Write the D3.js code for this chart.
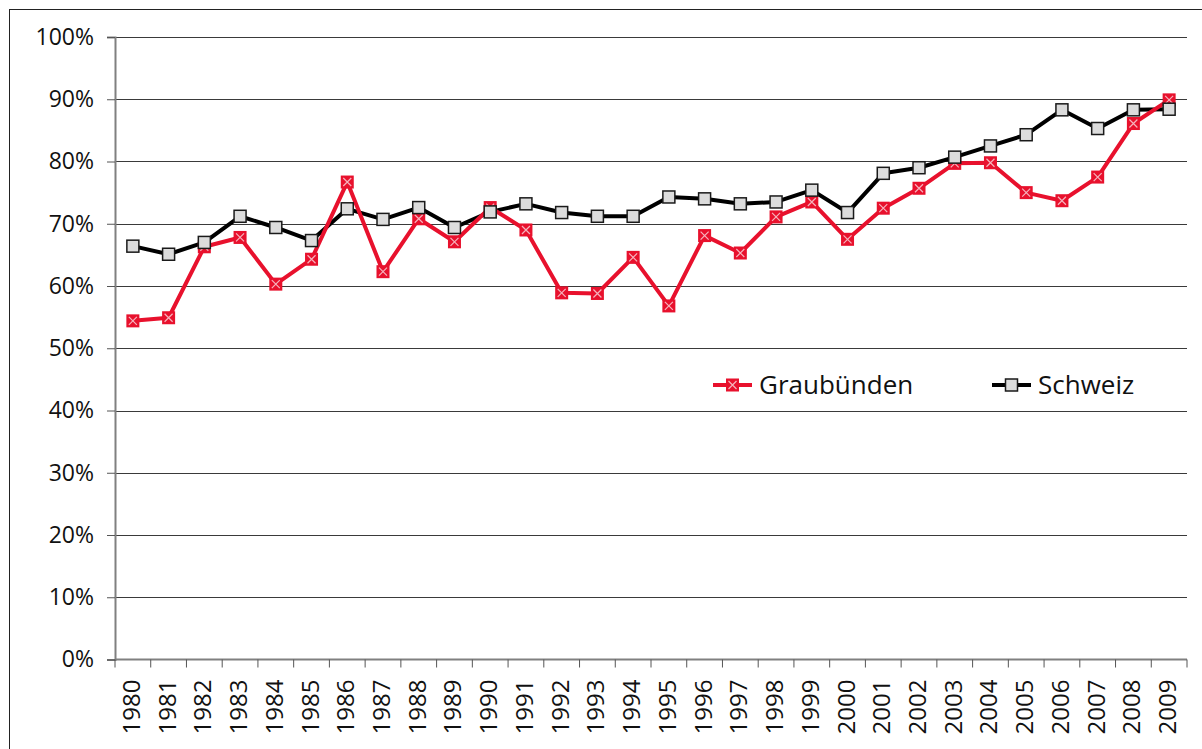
<!DOCTYPE html>
<html>
<head>
<meta charset="utf-8">
<script src="https://cdn.jsdelivr.net/npm/d3@7"></script>
<style>
  body { margin: 0; background: #fff; }
  svg { display: block; font-family: "Open Sans", "Noto Sans", sans-serif; }
</style>
</head>
<body>
<svg id="chart" width="1202" height="749"></svg>
<script>
// data (share in %)
var years = ["1980","1981","1982","1983","1984","1985","1986","1987","1988","1989",
             "1990","1991","1992","1993","1994","1995","1996","1997","1998","1999",
             "2000","2001","2002","2003","2004","2005","2006","2007","2008","2009"];
var graubuenden = [54.4, 54.9, 66.3, 67.8, 60.3, 64.3, 76.7, 62.3, 70.8, 67.1,
                   72.6, 69.0, 58.9, 58.8, 64.6, 56.8, 68.1, 65.3, 71.1, 73.5,
                   67.5, 72.5, 75.7, 79.7, 79.8, 75.0, 73.7, 77.5, 86.1, 89.9];
var schweiz = [66.4, 65.1, 67.0, 71.2, 69.4, 67.3, 72.4, 70.7, 72.6, 69.4,
               71.9, 73.2, 71.8, 71.2, 71.2, 74.3, 74.0, 73.2, 73.5, 75.4,
               71.8, 78.1, 79.0, 80.7, 82.5, 84.3, 88.3, 85.3, 88.3, 88.4];
var yTicks = [0, 10, 20, 30, 40, 50, 60, 70, 80, 90, 100];
var seriesNames = ["Graubünden", "Schweiz"];

var red = "#e8112d";
var svg = d3.select("#chart");

// outer frame
svg.append("rect")
  .attr("x", 9.5).attr("y", 9.5)
  .attr("width", 1202).attr("height", 749)
  .attr("fill", "none").attr("stroke", "#222").attr("stroke-width", 1);

var plotLeft = 115, plotRight = 1187, plotTop = 37, plotBottom = 659.5;

var x = d3.scaleBand().domain(years).range([plotLeft, plotRight]).padding(0);
var y = d3.scaleLinear().domain([0, 100]).range([plotBottom, plotTop]);

// gridlines
svg.append("g").selectAll("line")
  .data(yTicks.filter(function(d) { return d > 0; }))
  .enter().append("line")
  .attr("x1", plotLeft).attr("x2", plotRight)
  .attr("y1", function(d) { return Math.round(y(d)) + 0.5; })
  .attr("y2", function(d) { return Math.round(y(d)) + 0.5; })
  .attr("stroke", "#3a3a3a").attr("stroke-width", 1);

// y axis
var yAxis = svg.append("g")
  .attr("transform", "translate(" + plotLeft + ",0)")
  .call(d3.axisLeft(y).tickValues(yTicks).tickSize(8).tickPadding(13)
    .tickFormat(function(d) { return d + "%"; }));
yAxis.select(".domain").attr("stroke", "#808080").attr("stroke-width", 2);
yAxis.selectAll(".tick line").attr("stroke", "#555");
yAxis.selectAll("text").attr("font-size", 23).attr("fill", "#111")
  .attr("font-family", "Open Sans, sans-serif");

// x axis line
svg.append("line")
  .attr("x1", plotLeft).attr("x2", plotRight)
  .attr("y1", plotBottom).attr("y2", plotBottom)
  .attr("stroke", "#808080").attr("stroke-width", 2);

// x ticks at band boundaries
var bounds = years.map(function(d) { return x(d); }).concat([x(years[years.length - 1]) + x.bandwidth()]);
svg.append("g").selectAll("line")
  .data(bounds).enter().append("line")
  .attr("x1", function(d) { return d; }).attr("x2", function(d) { return d; })
  .attr("y1", plotBottom).attr("y2", plotBottom + 8)
  .attr("stroke", "#555").attr("stroke-width", 1);

// x labels, rotated
svg.append("g").selectAll("text")
  .data(years).enter().append("text")
  .attr("transform", function(d) {
    return "translate(" + (x(d) + x.bandwidth() / 2 + 7) + "," + (plotBottom + 20) + ") rotate(-90)";
  })
  .attr("text-anchor", "end")
  .attr("font-size", 24).attr("fill", "#111")
  .text(function(d) { return d; });

var line = d3.line()
  .x(function(d, i) { return x(years[i]) + x.bandwidth() / 2; })
  .y(function(d) { return y(d); });

function drawCross(g, size) {
  var h = size / 2 - 2.5;
  g.append("path")
    .attr("d", "M" + (-h) + "," + (-h) + "L" + h + "," + h + "M" + (-h) + "," + h + "L" + h + "," + (-h))
    .attr("stroke", "#f6b3bd").attr("stroke-width", 1.2).attr("fill", "none");
}

function redMarker(g) {
  g.append("rect").attr("x", -6.5).attr("y", -6.5).attr("width", 13).attr("height", 13)
    .attr("fill", red);
  drawCross(g, 13);
}

function grayMarker(g) {
  g.append("rect").attr("x", -6).attr("y", -6).attr("width", 12).attr("height", 12)
    .attr("fill", "#dcdcdc").attr("stroke", "#1a1a1a").attr("stroke-width", 1.5);
}

// Schweiz
svg.append("path").datum(schweiz)
  .attr("d", line).attr("fill", "none")
  .attr("stroke", "#000").attr("stroke-width", 4).attr("stroke-linejoin", "round");
// Graubünden
svg.append("path").datum(graubuenden)
  .attr("d", line).attr("fill", "none")
  .attr("stroke", red).attr("stroke-width", 4).attr("stroke-linejoin", "round");

svg.append("g").selectAll("g")
  .data(graubuenden).enter().append("g")
  .attr("transform", function(d, i) { return "translate(" + (x(years[i]) + x.bandwidth() / 2) + "," + y(d) + ")"; })
  .each(function() { redMarker(d3.select(this)); });

svg.append("g").selectAll("g")
  .data(schweiz).enter().append("g")
  .attr("transform", function(d, i) { return "translate(" + (x(years[i]) + x.bandwidth() / 2) + "," + y(d) + ")"; })
  .each(function() { grayMarker(d3.select(this)); });

// legend
var legend = [
  { name: seriesNames[0], x: 713, color: red, marker: redMarker },
  { name: seriesNames[1], x: 992, color: "#000", marker: grayMarker }
];
legend.forEach(function(l) {
  var g = svg.append("g").attr("transform", "translate(" + l.x + ",385)");
  g.append("line").attr("x1", 0).attr("x2", 39).attr("y1", 0).attr("y2", 0)
    .attr("stroke", l.color).attr("stroke-width", 4);
  l.marker(g.append("g").attr("transform", "translate(19.5,0)"));
  g.append("text").attr("x", 46).attr("y", 9)
    .attr("font-size", 26).attr("fill", "#111").text(l.name);
});
</script>
</body>
</html>
